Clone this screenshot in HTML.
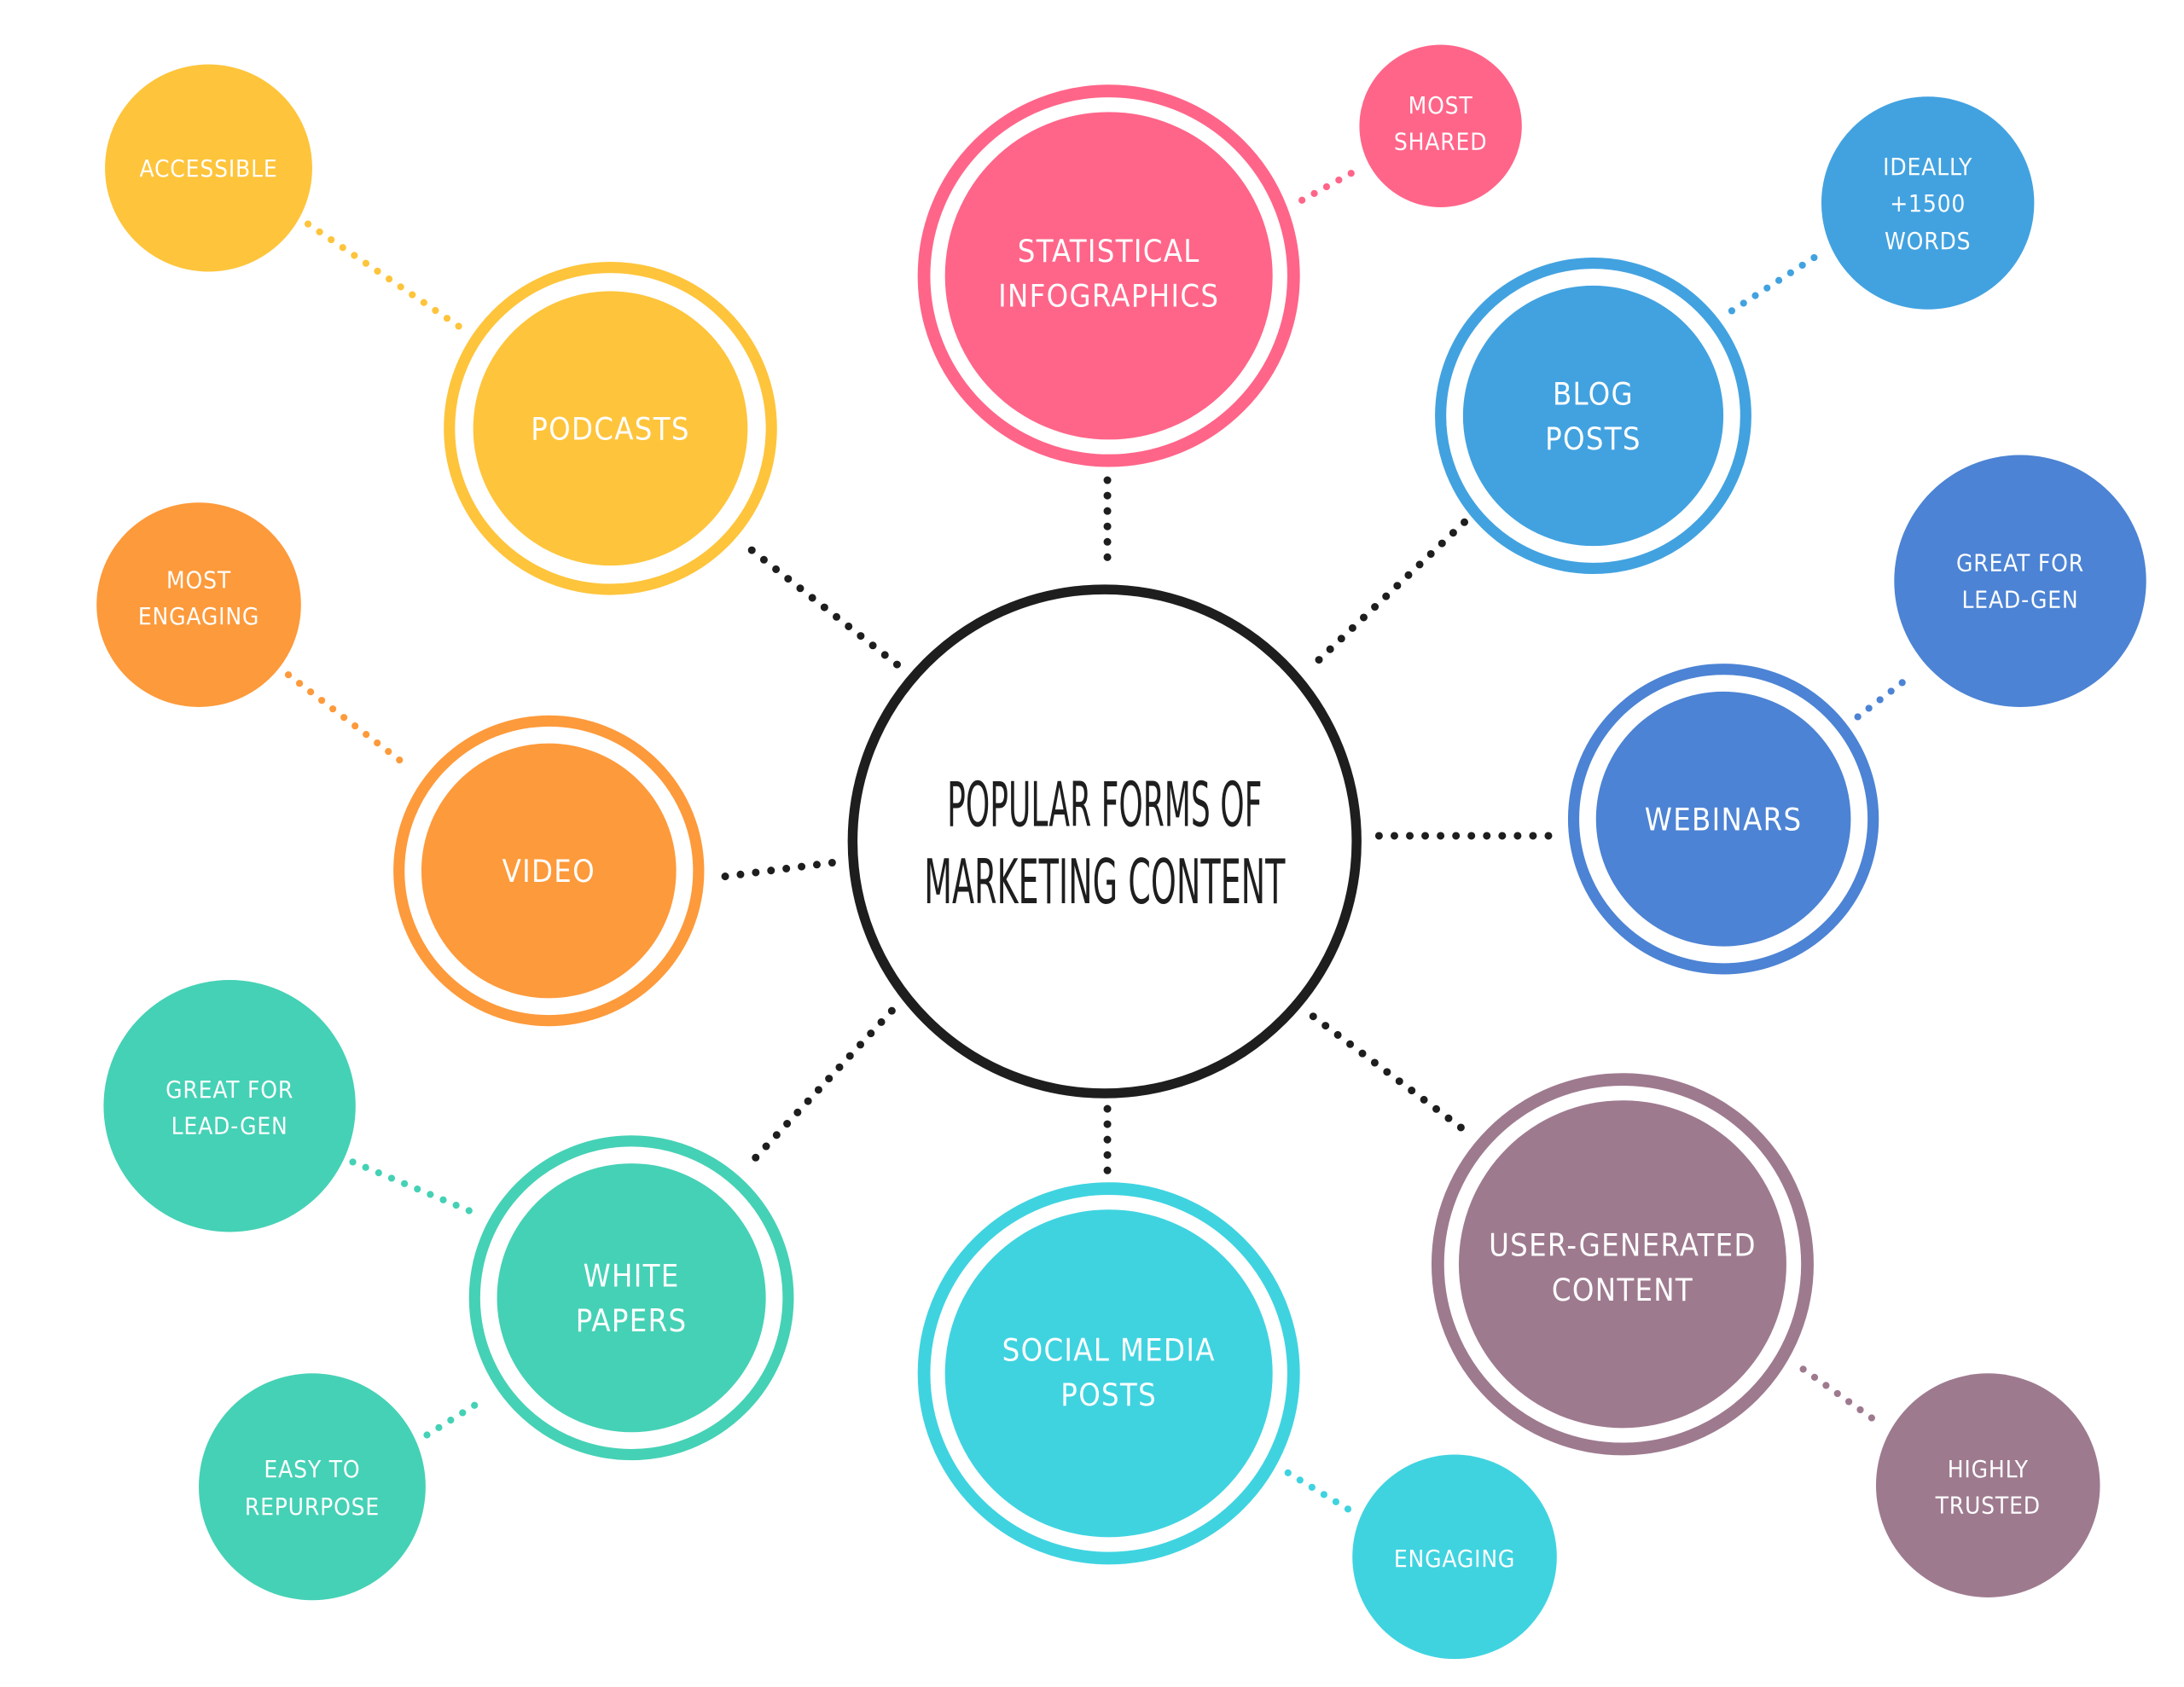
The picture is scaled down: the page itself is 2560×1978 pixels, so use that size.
<!DOCTYPE html>
<html><head><meta charset="utf-8"><style>
html,body{margin:0;padding:0;background:#fff;}
svg{display:block;}
text{font-family:"Liberation Sans Narrow","DejaVu Sans Condensed","DejaVu Sans","Liberation Sans",sans-serif;font-stretch:condensed;fill:#fff;text-anchor:middle;}
.s{font-size:17px;letter-spacing:0.5px;}
.m{font-size:22px;letter-spacing:0.8px;}
.bk{stroke:#1e1e1e;stroke-width:5.5;stroke-linecap:round;stroke-dasharray:0 11;fill:none;}
.cl{stroke-width:5;stroke-linecap:round;stroke-dasharray:0 10;fill:none;}
</style></head><body>
<svg width="2560" height="1978" viewBox="0 0 1560 1205" preserveAspectRatio="none" xmlns="http://www.w3.org/2000/svg">
<rect width="1560" height="1205" fill="#fff"/>
<line class="bk" x1="537" y1="393" x2="645" y2="478"/>
<line class="bk" x1="791" y1="343" x2="791" y2="405"/>
<line class="bk" x1="1046" y1="373" x2="935" y2="478"/>
<line class="bk" x1="985" y1="597" x2="1108" y2="597"/>
<line class="bk" x1="938" y1="726" x2="1047" y2="808"/>
<line class="bk" x1="791" y1="792" x2="791" y2="840"/>
<line class="bk" x1="637" y1="722" x2="535" y2="832"/>
<line class="bk" x1="518" y1="626" x2="596" y2="616"/>
<line class="cl" stroke="#FEC43B" x1="220" y1="160" x2="335" y2="238"/>
<line class="cl" stroke="#FF6589" x1="930" y1="143" x2="972" y2="120"/>
<line class="cl" stroke="#42A2E0" x1="1237" y1="222" x2="1302" y2="180"/>
<line class="cl" stroke="#4C83D4" x1="1327" y1="512" x2="1366" y2="482"/>
<line class="cl" stroke="#FD9A3B" x1="206" y1="482" x2="292" y2="548"/>
<line class="cl" stroke="#45D1B5" x1="252" y1="830" x2="338" y2="866"/>
<line class="cl" stroke="#45D1B5" x1="305" y1="1025" x2="345" y2="1000"/>
<line class="cl" stroke="#3FD3E0" x1="920" y1="1052" x2="963" y2="1078"/>
<line class="cl" stroke="#9E7A8F" x1="1288" y1="978" x2="1340" y2="1015"/>
<circle cx="789" cy="601" r="180" fill="#fff" stroke="#1e1e1e" stroke-width="7"/>
<text x="789" y="590" style="fill:#1e1e1e;font-size:44px;" textLength="225" lengthAdjust="spacingAndGlyphs">POPULAR FORMS OF</text>
<text x="789" y="645" style="fill:#1e1e1e;font-size:44px;" textLength="258" lengthAdjust="spacingAndGlyphs">MARKETING CONTENT</text>
<g>
<circle cx="436" cy="306" r="115" fill="none" stroke="#FEC43B" stroke-width="8"/>
<circle cx="436" cy="306" r="98" fill="#FEC43B"/>
<text class="m" x="436" y="314">PODCASTS</text>
<circle cx="792" cy="197" r="132" fill="none" stroke="#FF6589" stroke-width="9"/>
<circle cx="792" cy="197" r="117" fill="#FF6589"/>
<text class="m" x="792" y="187">STATISTICAL</text>
<text class="m" x="792" y="219">INFOGRAPHICS</text>
<circle cx="1138" cy="297" r="109" fill="none" stroke="#42A2E0" stroke-width="8"/>
<circle cx="1138" cy="297" r="93" fill="#42A2E0"/>
<text class="m" x="1138" y="289">BLOG</text>
<text class="m" x="1138" y="321">POSTS</text>
<circle cx="1231" cy="585" r="107" fill="none" stroke="#4C83D4" stroke-width="8"/>
<circle cx="1231" cy="585" r="91" fill="#4C83D4"/>
<text class="m" x="1231" y="593">WEBINARS</text>
<circle cx="1159" cy="903" r="132" fill="none" stroke="#9E7A8F" stroke-width="9"/>
<circle cx="1159" cy="903" r="117" fill="#9E7A8F"/>
<text class="m" x="1159" y="897">USER-GENERATED</text>
<text class="m" x="1159" y="929">CONTENT</text>
<circle cx="792" cy="981" r="132" fill="none" stroke="#3FD3E0" stroke-width="9"/>
<circle cx="792" cy="981" r="117" fill="#3FD3E0"/>
<text class="m" x="792" y="972">SOCIAL MEDIA</text>
<text class="m" x="792" y="1004">POSTS</text>
<circle cx="451" cy="927" r="112" fill="none" stroke="#45D1B5" stroke-width="8"/>
<circle cx="451" cy="927" r="96" fill="#45D1B5"/>
<text class="m" x="451" y="919">WHITE</text>
<text class="m" x="451" y="951">PAPERS</text>
<circle cx="392" cy="622" r="107" fill="none" stroke="#FD9A3B" stroke-width="8"/>
<circle cx="392" cy="622" r="91" fill="#FD9A3B"/>
<text class="m" x="392" y="630">VIDEO</text>
</g>
<circle cx="149" cy="120" r="74" fill="#FEC43B"/>
<text class="s" x="149" y="126">ACCESSIBLE</text>
<circle cx="1029" cy="90" r="58" fill="#FF6589"/>
<text class="s" x="1029" y="81">MOST</text><text class="s" x="1029" y="107">SHARED</text>
<circle cx="1377" cy="145" r="76" fill="#42A2E0"/>
<text class="s" x="1377" y="125">IDEALLY</text><text class="s" x="1377" y="151">+1500</text><text class="s" x="1377" y="178">WORDS</text>
<circle cx="1443" cy="415" r="90" fill="#4C83D4"/>
<text class="s" x="1443" y="408">GREAT FOR</text><text class="s" x="1443" y="434">LEAD-GEN</text>
<circle cx="142" cy="432" r="73" fill="#FD9A3B"/>
<text class="s" x="142" y="420">MOST</text><text class="s" x="142" y="446">ENGAGING</text>
<circle cx="164" cy="790" r="90" fill="#45D1B5"/>
<text class="s" x="164" y="784">GREAT FOR</text><text class="s" x="164" y="810">LEAD-GEN</text>
<circle cx="223" cy="1062" r="81" fill="#45D1B5"/>
<text class="s" x="223" y="1055">EASY TO</text><text class="s" x="223" y="1082">REPURPOSE</text>
<circle cx="1039" cy="1112" r="73" fill="#3FD3E0"/>
<text class="s" x="1039" y="1119">ENGAGING</text>
<circle cx="1420" cy="1061" r="80" fill="#9E7A8F"/>
<text class="s" x="1420" y="1055">HIGHLY</text><text class="s" x="1420" y="1081">TRUSTED</text>
</svg>
</body></html>
